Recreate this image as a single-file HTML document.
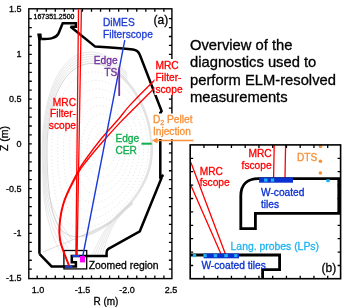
<!DOCTYPE html>
<html><head><meta charset="utf-8">
<style>
html,body{margin:0;padding:0;background:#fff;}
body{width:342px;height:307px;overflow:hidden;position:relative;font-family:"Liberation Sans",sans-serif;}
svg{position:absolute;left:0;top:0;will-change:transform;}
svg text{font-family:"Liberation Sans",sans-serif;stroke-width:0.3px;}
</style></head><body>
<svg width="342" height="307" viewBox="0 0 342 307">
<path d="M148.28 150L147.94 141.82L146.94 133.73L145.29 125.82L143.02 118.17L140.17 110.88L136.8 104.01L132.96 97.64L128.72 91.85L124.15 86.7L119.32 82.24L114.31 78.52L109.18 75.58L104.01 73.46L98.85 72.18L93.78 71.75L88.84 72.18L84.08 73.46L79.55 75.58L75.29 78.52L71.32 82.24L67.68 86.7L64.38 91.85L61.44 97.64L58.87 104.01L56.68 110.88L54.89 118.17L53.49 125.82L52.48 133.73L51.88 141.82L51.68 150L51.79 158.18L52.11 166.27L52.65 174.18L53.42 181.83L54.44 189.12L55.72 195.99L57.29 202.36L59.17 208.15L61.38 213.3L63.94 217.76L66.88 221.48L70.21 224.42L73.94 226.54L78.08 227.82L82.6 228.25L87.5 227.82L92.74 226.54L98.25 224.42L103.97 221.48L109.81 217.76L115.66 213.3L121.4 208.15L126.91 202.36L132.05 195.99L136.68 189.12L140.68 181.83L143.93 174.18L146.32 166.27L147.79 158.18L148.28 150Z" fill="none" stroke="#d2d2d2" stroke-width="0.55" stroke-dasharray="1.2 2.2"/>
<path d="M143.63 150L143.34 142.71L142.46 135.5L141.03 128.45L139.05 121.63L136.57 115.13L133.62 109.01L130.27 103.33L126.56 98.17L122.55 93.58L118.3 89.6L113.88 86.29L109.34 83.67L104.76 81.78L100.17 80.64L95.65 80.26L91.23 80.64L86.97 81.78L82.89 83.67L79.05 86.29L75.46 89.6L72.15 93.58L69.15 98.17L66.47 103.33L64.12 109.01L62.12 115.13L60.48 121.63L59.19 128.45L58.27 135.5L57.71 142.71L57.53 150L57.64 157.29L57.96 164.5L58.5 171.55L59.27 178.37L60.28 184.87L61.55 190.99L63.08 196.67L64.9 201.83L67.03 206.42L69.47 210.4L72.24 213.71L75.35 216.33L78.81 218.22L82.6 219.36L86.71 219.74L91.12 219.36L95.79 218.22L100.68 216.33L105.7 213.71L110.79 210.4L115.86 206.42L120.81 201.83L125.53 196.67L129.91 190.99L133.85 184.87L137.23 178.37L139.97 171.55L141.98 164.5L143.21 157.29L143.63 150Z" fill="none" stroke="#d2d2d2" stroke-width="0.55" stroke-dasharray="1.2 2.2"/>
<path d="M138.98 150L138.73 143.6L137.98 137.27L136.75 131.08L135.05 125.09L132.92 119.38L130.39 114.01L127.5 109.03L124.3 104.49L120.83 100.46L117.15 96.97L113.31 94.06L109.37 91.76L105.36 90.1L101.35 89.1L97.38 88.76L93.49 89.1L89.72 90.1L86.11 91.76L82.7 94.06L79.5 96.97L76.54 100.46L73.86 104.49L71.45 109.03L69.34 114.01L67.53 119.38L66.05 125.09L64.88 131.08L64.05 137.27L63.55 143.6L63.38 150L63.49 156.4L63.8 162.73L64.33 168.92L65.09 174.91L66.07 180.62L67.29 185.99L68.77 190.97L70.5 195.51L72.5 199.54L74.78 203.03L77.35 205.94L80.21 208.24L83.35 209.9L86.77 210.9L90.44 211.24L94.35 210.9L98.45 209.9L102.7 208.24L107.04 205.94L111.41 203.03L115.74 199.54L119.93 195.51L123.91 190.97L127.58 185.99L130.86 180.62L133.68 174.91L135.95 168.92L137.62 162.73L138.64 156.4L138.98 150Z" fill="none" stroke="#d2d2d2" stroke-width="0.55" stroke-dasharray="1.2 2.2"/>
<path d="M134.33 150L134.12 144.49L133.49 139.04L132.46 133.71L131.03 128.55L129.24 123.63L127.1 119.01L124.66 114.72L121.96 110.81L119.02 107.34L115.89 104.33L112.62 101.83L109.25 99.85L105.82 98.42L102.38 97.56L98.96 97.27L95.6 97.56L92.34 98.42L89.2 99.85L86.23 101.83L83.43 104.33L80.85 107.34L78.49 110.81L76.37 114.72L74.51 119.01L72.91 123.63L71.6 128.55L70.56 133.71L69.82 139.04L69.38 144.49L69.23 150L69.33 155.51L69.63 160.96L70.14 166.29L70.86 171.45L71.79 176.37L72.95 180.99L74.33 185.28L75.94 189.19L77.78 192.66L79.87 195.67L82.2 198.17L84.77 200.15L87.56 201.58L90.58 202.44L93.79 202.73L97.18 202.44L100.7 201.58L104.33 200.15L108 198.17L111.67 195.67L115.28 192.66L118.76 189.19L122.04 185.28L125.06 180.99L127.74 176.37L130.03 171.45L131.88 166.29L133.23 160.96L134.05 155.51L134.33 150Z" fill="none" stroke="#d2d2d2" stroke-width="0.55" stroke-dasharray="1.2 2.2"/>
<path d="M129.68 150L129.51 145.38L128.99 140.8L128.15 136.33L126.98 132.01L125.51 127.89L123.76 124L121.75 120.41L119.52 117.13L117.1 114.22L114.51 111.7L111.8 109.6L109 107.94L106.14 106.74L103.26 106.02L100.39 105.77L97.57 106.02L94.82 106.74L92.17 107.94L89.64 109.6L87.27 111.7L85.06 114.22L83.04 117.13L81.23 120.41L79.63 124L78.26 127.89L77.12 132.01L76.23 136.33L75.59 140.8L75.21 145.38L75.08 150L75.17 154.62L75.46 159.2L75.93 163.67L76.59 167.99L77.45 172.11L78.5 176L79.75 179.59L81.21 182.87L82.86 185.78L84.72 188.3L86.77 190.4L89.01 192.06L91.43 193.26L94.01 193.98L96.74 194.23L99.6 193.98L102.54 193.26L105.55 192.06L108.57 190.4L111.57 188.3L114.5 185.78L117.31 182.87L119.94 179.59L122.34 176L124.48 172.11L126.29 167.99L127.75 163.67L128.81 159.2L129.46 154.62L129.68 150Z" fill="none" stroke="#d2d2d2" stroke-width="0.55" stroke-dasharray="1.2 2.2"/>
<path d="M125.03 150L124.89 146.27L124.49 142.57L123.82 138.96L122.9 135.47L121.74 132.14L120.36 129L118.77 126.1L117 123.45L115.08 121.1L113.02 119.06L110.85 117.37L108.61 116.03L106.32 115.06L104 114.47L101.68 114.28L99.4 114.47L97.16 115.06L95 116.03L92.94 117.37L91 119.06L89.19 121.1L87.52 123.45L86.03 126.1L84.7 129L83.57 132.14L82.63 135.47L81.89 138.96L81.36 142.57L81.04 146.27L80.93 150L81.01 153.73L81.26 157.43L81.68 161.04L82.27 164.53L83.03 167.86L83.95 171L85.04 173.9L86.3 176.55L87.72 178.9L89.3 180.94L91.04 182.63L92.92 183.97L94.93 184.94L97.06 185.53L99.29 185.72L101.61 185.53L103.97 184.94L106.37 183.97L108.76 182.63L111.12 180.94L113.4 178.9L115.58 176.55L117.61 173.9L119.45 171L121.08 167.86L122.46 164.53L123.57 161.04L124.37 157.43L124.87 153.73L125.03 150Z" fill="none" stroke="#d2d2d2" stroke-width="0.55" stroke-dasharray="1.2 2.2"/>
<path d="M120.38 150L120.28 147.16L119.98 144.34L119.48 141.59L118.8 138.93L117.94 136.39L116.91 134L115.72 131.79L114.4 129.77L112.96 127.98L111.41 126.43L109.78 125.14L108.09 124.12L106.35 123.38L104.59 122.93L102.83 122.78L101.08 122.93L99.37 123.38L97.71 124.12L96.12 125.14L94.62 126.43L93.22 127.98L91.93 129.77L90.76 131.79L89.73 134L88.85 136.39L88.11 138.93L87.53 141.59L87.12 144.34L86.86 147.16L86.78 150L86.85 152.84L87.06 155.66L87.41 158.41L87.9 161.07L88.52 163.61L89.28 166L90.18 168.21L91.2 170.23L92.35 172.02L93.62 173.57L95 174.86L96.49 175.88L98.06 176.62L99.72 177.07L101.44 177.22L103.2 177.07L104.99 176.62L106.79 175.88L108.58 174.86L110.32 173.57L112 172.02L113.58 170.23L115.06 168.21L116.39 166L117.56 163.61L118.55 161.07L119.34 158.41L119.91 155.66L120.26 152.84L120.38 150Z" fill="none" stroke="#d2d2d2" stroke-width="0.55" stroke-dasharray="1.2 2.2"/>
<path d="M115.73 150L115.66 148.04L115.46 146.11L115.13 144.22L114.67 142.39L114.09 140.64L113.4 139L112.6 137.48L111.71 136.1L110.73 134.86L109.69 133.8L108.58 132.91L107.43 132.2L106.24 131.7L105.03 131.39L103.82 131.29L102.62 131.39L101.44 131.7L100.29 132.2L99.19 132.91L98.14 133.8L97.16 134.86L96.26 136.1L95.44 137.48L94.71 139L94.09 140.64L93.57 142.39L93.16 144.22L92.87 146.11L92.69 148.04L92.63 150L92.68 151.96L92.84 153.89L93.1 155.78L93.47 157.61L93.93 159.36L94.5 161L95.16 162.52L95.91 163.9L96.74 165.14L97.66 166.2L98.65 167.09L99.71 167.8L100.82 168.3L101.97 168.61L103.16 168.71L104.38 168.61L105.6 168.3L106.82 167.8L108.02 167.09L109.18 166.2L110.29 165.14L111.33 163.9L112.29 162.52L113.16 161L113.92 159.36L114.56 157.61L115.06 155.78L115.43 153.89L115.66 151.96L115.73 150Z" fill="none" stroke="#d2d2d2" stroke-width="0.55" stroke-dasharray="1.2 2.2"/>
<path d="M152 150L151.79 143.2L151.16 136.45L150.12 129.78L148.68 123.23L146.86 116.85L144.67 110.67L142.14 104.74L139.29 99.08L136.16 93.74L132.77 88.75L129.16 84.13L125.36 79.92L121.41 76.14L117.33 72.82L113.17 69.97L108.95 67.61L104.71 65.77L100.49 64.44L96.3 63.64L92.17 63.38L88.14 63.64L84.22 64.44L80.43 65.77L76.79 67.61L73.32 69.97L70.03 72.82L66.93 76.14L64.04 79.92L61.36 84.13L58.89 88.75L56.65 93.74L54.63 99.08L52.85 104.74L51.3 110.67L49.99 116.85L48.91 123.23L48.08 129.78L47.48 136.45L47.12 143.2L47 150L47.05 156.8L47.2 163.55L47.45 170.22L47.8 176.77L48.27 183.15L48.86 189.33L49.58 195.26L50.44 200.92L51.45 206.26L52.63 211.25L53.99 215.87L55.54 220.08L57.31 223.86L59.3 227.18L61.53 230.03L64.02 232.39L66.77 234.23L69.79 235.56L73.09 236.36L76.66 236.62L80.51 236.36L84.62 235.56L88.97 234.23L93.54 232.39L98.29 230.03L103.19 227.18L108.18 223.86L113.21 220.08L118.22 215.87L123.15 211.25L127.91 206.26L132.43 200.92L136.64 195.26L140.47 189.33L143.84 183.15L146.7 176.77L148.98 170.22L150.65 163.55L151.66 156.8L152 150Z" fill="none" stroke="#b9b9b9" stroke-width="0.6"/>
<path d="M82.39 235.99L84.79 235.44L87.27 234.71L89.82 233.81L92.45 232.74L95.13 231.5L97.87 230.09L100.66 228.53L103.49 226.8L106.35 224.92L109.23 222.89L112.11 220.71L114.99 218.39L117.86 215.93L120.69 213.34L123.49 210.61L126.22 207.77L128.89 204.81L131.47 201.73L133.96 198.55L136.33 195.28L138.58 191.91L140.68 188.46L142.64 184.93L144.42 181.32L146.04 177.66L147.47 173.94L148.7 170.17L149.73 166.36L150.55 162.52L151.15 158.65L151.53 154.76L151.69 150.87L151.66 146.97L151.48 143.08L151.17 139.2L150.72 135.34L150.13 131.52L149.42 127.73L148.57 123.99L147.6 120.3L146.5 116.67L145.28 113.1L143.95 109.61L142.51 106.21L140.96 102.89L139.31 99.67L137.56 96.55L135.73 93.53L133.81 90.64L131.82 87.86L129.75 85.21L127.62 82.69L125.43 80.3L123.19 78.06L120.9 75.96L118.58 74.01L116.22 72.22L113.83 70.58L111.43 69.11L109.01 67.79" fill="none" stroke="#e3e3e3" stroke-width="2.6"/>
<path d="M127.4 80.4L124.83 77.63L122.19 75.06L119.5 72.69L116.76 70.52L113.98 68.57L111.18 66.84L108.36 65.33L105.53 64.05L102.71 63L99.89 62.18L97.09 61.6L94.31 61.26L91.57 61.15L88.87 61.28L86.21 61.66L83.61 62.26L81.07 63.11L78.59 64.19L76.18 65.49L73.84 67.03L71.58 68.79L69.41 70.76L67.31 72.95L65.31 75.35L63.39 77.95L61.57 80.74L59.84 83.71L58.21 86.87L56.68 90.19L55.25 93.67L53.92 97.31L52.69 101.09L51.57 105L50.54 109.03L49.62 113.16L48.81 117.4L48.1 121.73L47.49 126.13L46.99 130.6L46.6 135.12L46.31 139.67L46.12 144.26L46.04 148.86L46.05 153.47L46.09 158.06L46.18 162.63L46.29 167.17L46.45 171.67L46.65 176.1L46.88 180.47C46.48 198.47 59.5 225 72.5 240" fill="none" stroke="#cfcfcf" stroke-width="0.5"/>
<path d="M127.36 78.64L124.76 75.8L122.09 73.16L119.37 70.73L116.6 68.51L113.79 66.51L110.96 64.73L108.11 63.19L105.25 61.87L102.39 60.79L99.54 59.96L96.71 59.36L93.9 59.01L91.13 58.9L88.39 59.04L85.71 59.42L83.08 60.04L80.5 60.91L78 62.01L75.56 63.35L73.2 64.93L70.91 66.73L68.71 68.76L66.59 71L64.57 73.46L62.63 76.12L60.79 78.98L59.04 82.03L57.39 85.27L55.84 88.68L54.4 92.25L53.05 95.98L51.81 99.85L50.67 103.86L49.63 107.99L48.7 112.23L47.88 116.58L47.16 121.01L46.55 125.53L46.04 130.11L45.64 134.74L45.35 139.41L45.16 144.11L45.08 148.83L45.09 153.55L45.14 158.26L45.22 162.95L45.34 167.61L45.5 172.21L45.69 176.76L45.93 181.24C45.53 199.24 57.3 229 70.3 244" fill="none" stroke="#cfcfcf" stroke-width="0.5"/>
<path d="M127.32 76.88L124.69 73.97L121.99 71.26L119.24 68.77L116.44 66.5L113.6 64.45L110.73 62.63L107.85 61.04L104.96 59.7L102.07 58.59L99.19 57.73L96.32 57.12L93.48 56.76L90.68 56.65L87.92 56.79L85.2 57.18L82.54 57.82L79.94 58.71L77.41 59.84L74.94 61.21L72.55 62.83L70.24 64.67L68.01 66.75L65.87 69.05L63.82 71.57L61.86 74.3L60 77.23L58.24 80.35L56.57 83.67L55 87.16L53.54 90.82L52.18 94.64L50.92 98.61L49.77 102.72L48.72 106.95L47.78 111.3L46.95 115.75L46.22 120.3L45.6 124.92L45.09 129.61L44.69 134.36L44.39 139.15L44.2 143.97L44.12 148.8L44.13 153.64L44.18 158.47L44.26 163.27L44.38 168.04L44.54 172.76L44.74 177.42L44.98 182.01C44.58 200.01 55.1 233 68.1 248" fill="none" stroke="#cfcfcf" stroke-width="0.5"/>
<path d="M127.27 75.11L124.62 72.14L121.89 69.37L119.11 66.81L116.28 64.49L113.41 62.39L110.51 60.52L107.59 58.9L104.67 57.52L101.75 56.39L98.83 55.51L95.94 54.88L93.07 54.51L90.24 54.4L87.44 54.54L84.7 54.94L82.01 55.6L79.38 56.51L76.81 57.67L74.32 59.07L71.9 60.73L69.57 62.62L67.32 64.74L65.15 67.1L63.08 69.68L61.1 72.47L59.22 75.47L57.43 78.68L55.75 82.07L54.16 85.65L52.68 89.4L51.31 93.31L50.04 97.37L48.87 101.58L47.81 105.91L46.86 110.37L46.02 114.93L45.29 119.58L44.66 124.32L44.14 129.12L43.74 133.98L43.44 138.89L43.24 143.82L43.16 148.77L43.17 153.73L43.22 158.67L43.3 163.59L43.42 168.48L43.58 173.31L43.79 178.08L44.03 182.78C43.63 200.78 52.9 237 65.9 252" fill="none" stroke="#cfcfcf" stroke-width="0.5"/>
<path d="M127.23 73.35L124.55 70.3L121.79 67.47L118.98 64.86L116.12 62.47L113.22 60.32L110.29 58.42L107.34 56.75L104.38 55.34L101.43 54.19L98.48 53.29L95.56 52.65L92.66 52.27L89.79 52.15L86.97 52.3L84.19 52.71L81.47 53.38L78.81 54.31L76.22 55.49L73.7 56.93L71.26 58.63L68.9 60.56L66.62 62.74L64.43 65.15L62.34 67.79L60.34 70.65L58.43 73.72L56.63 77L54.92 80.47L53.32 84.13L51.83 87.97L50.44 91.97L49.15 96.13L47.97 100.44L46.91 104.87L45.94 109.43L45.09 114.1L44.35 118.87L43.72 123.71L43.19 128.63L42.78 133.61L42.48 138.63L42.29 143.68L42.2 148.75L42.21 153.82L42.26 158.88L42.34 163.91L42.47 168.91L42.63 173.86L42.83 178.75L43.08 183.55C42.68 201.55 50.7 241 63.7 256" fill="none" stroke="#cfcfcf" stroke-width="0.5"/>
<path d="M43 252 L76 238.5 L112 222" fill="none" stroke="#c8c8c8" stroke-width="0.6"/>
<path d="M132 202 C116 214 104 226 92 256" fill="none" stroke="#d0d0d0" stroke-width="0.5"/>
<path d="M132.3 202.5 C116.4 214.3 105.6 226 94.4 256" fill="none" stroke="#d0d0d0" stroke-width="0.5"/>
<path d="M132.6 203 C116.8 214.6 107.2 226 96.8 256" fill="none" stroke="#d0d0d0" stroke-width="0.5"/>
<path d="M132.9 203.5 C117.2 214.9 108.8 226 99.2 256" fill="none" stroke="#d0d0d0" stroke-width="0.5"/>
<path d="M133.2 204 C117.6 215.2 110.4 226 101.6 256" fill="none" stroke="#d0d0d0" stroke-width="0.5"/>

<rect x="28.8" y="8.8" width="143.1" height="269.8" fill="none" stroke="#000" stroke-width="1.4"/>
<path d="M28.8 269.2h3.0M171.9 269.2h-3.0M28.8 260.25h3.0M171.9 260.25h-3.0M28.8 251.3h3.0M171.9 251.3h-3.0M28.8 242.35h3.0M171.9 242.35h-3.0M28.8 233.4h3.0M171.9 233.4h-3.0M28.8 224.45h3.0M171.9 224.45h-3.0M28.8 215.5h3.0M171.9 215.5h-3.0M28.8 206.55h3.0M171.9 206.55h-3.0M28.8 197.6h3.0M171.9 197.6h-3.0M28.8 188.65h3.0M171.9 188.65h-3.0M28.8 179.7h3.0M171.9 179.7h-3.0M28.8 170.75h3.0M171.9 170.75h-3.0M28.8 161.8h3.0M171.9 161.8h-3.0M28.8 152.85h3.0M171.9 152.85h-3.0M28.8 143.9h3.0M171.9 143.9h-3.0M28.8 134.95h3.0M171.9 134.95h-3.0M28.8 126h3.0M171.9 126h-3.0M28.8 117.05h3.0M171.9 117.05h-3.0M28.8 108.1h3.0M171.9 108.1h-3.0M28.8 99.15h3.0M171.9 99.15h-3.0M28.8 90.2h3.0M171.9 90.2h-3.0M28.8 81.25h3.0M171.9 81.25h-3.0M28.8 72.3h3.0M171.9 72.3h-3.0M28.8 63.35h3.0M171.9 63.35h-3.0M28.8 54.4h3.0M171.9 54.4h-3.0M28.8 45.45h3.0M171.9 45.45h-3.0M28.8 36.5h3.0M171.9 36.5h-3.0M28.8 27.55h3.0M171.9 27.55h-3.0M28.8 18.6h3.0M171.9 18.6h-3.0M37.2 8.8v3M37.2 278.6v-3M46.25 8.8v3M46.25 278.6v-3M55.3 8.8v3M55.3 278.6v-3M64.35 8.8v3M64.35 278.6v-3M73.4 8.8v3M73.4 278.6v-3M82.45 8.8v3M82.45 278.6v-3M91.5 8.8v3M91.5 278.6v-3M100.55 8.8v3M100.55 278.6v-3M109.6 8.8v3M109.6 278.6v-3M118.65 8.8v3M118.65 278.6v-3M127.7 8.8v3M127.7 278.6v-3M136.75 8.8v3M136.75 278.6v-3M145.8 8.8v3M145.8 278.6v-3M154.85 8.8v3M154.85 278.6v-3M163.9 8.8v3M163.9 278.6v-3" stroke="#000" stroke-width="1.3" fill="none"/>

<!-- vessel wall -->
<path d="M37.2 33.4 L41.5 33.4 L41.9 37.6 L40.6 40.6 L38.3 40.6 Z" fill="#000"/>
<path d="M39.4 253.8 L39.4 38.5 M41.2 39 C50 39 56 38.4 58.4 33.6 C59.8 30.6 61.4 26 62.7 23.2 L62.8 23.2 L75.9 23.2 L75.9 26.8 L70.6 26.8 L95.2 46.6 C110 47.4 125 48.6 133 49.6 C137 50.1 138.6 52 139.8 54.8 L161.6 111 L160.3 113"
 fill="none" stroke="#000" stroke-width="2.5" stroke-linejoin="miter" stroke-miterlimit="2"/>
<path d="M160.3 112 L160.3 177 L163.6 175.2 M161.9 177 L139.8 231.3 L108.4 248.9 Q106.6 250 106.6 252.5 L106.6 256 L71.8 256 L71.8 262.2 L75.9 262.2 L75.9 266.6 L51.6 266.4 L39.4 253.8"
 fill="none" stroke="#000" stroke-width="2.5" stroke-linejoin="miter" stroke-miterlimit="2"/>

<!-- zoom box -->
<rect x="63.9" y="250.5" width="22.8" height="18.4" fill="none" stroke="#000" stroke-width="1.3"/>
<rect x="65.2" y="265.6" width="7.2" height="2.1" fill="#1f3fd8"/>
<rect x="72.4" y="254.9" width="7.2" height="2.2" fill="#1f3fd8"/>
<rect x="80" y="256" width="5" height="6.4" fill="#ff00ff"/>

<!-- red vertical MRC pair -->
<path d="M78.5 9.3 L75.9 255 M81.4 9.3 L77.1 255" stroke="#f00" stroke-width="1.3" fill="none"/>
<path d="M162 73.5C160.62 74.73 159.03 75.63 153.7 80.9C148.37 86.17 135.98 98.58 130 105.1C124.02 111.62 122.63 114.35 117.8 120C112.97 125.65 106.43 132.33 101 139C95.57 145.67 89.13 154.43 85.2 160C81.27 165.57 80.88 165.73 77.4 172.4C73.92 179.07 67.3 191.48 64.3 200C61.3 208.52 60.08 216.5 59.4 223.5C58.72 230.5 58.67 235.03 60.2 242C61.73 248.97 67.2 261.42 68.6 265.3" stroke="#f00" stroke-width="1.35" fill="none"/>
<path d="M163 79.5C161.67 80.82 160.5 81.88 155 87.4C149.5 92.92 135.83 106.73 130 112.6C124.17 118.47 124.45 117.87 120 122.6C115.55 127.33 108.73 134.77 103.3 141C97.87 147.23 91.58 154.7 87.4 160C83.22 165.3 81.95 166.12 78.2 172.8C74.45 179.48 67.93 191.65 64.9 200.1C61.87 208.55 60.68 216.52 60 223.5C59.32 230.48 59.27 235.03 60.8 242C62.33 248.97 67.8 261.42 69.2 265.3" stroke="#f00" stroke-width="1.35" fill="none"/>
<!-- blue DiMES line -->
<path d="M124.8 40.2 L82.8 256" stroke="#1a3ad8" stroke-width="1.4" fill="none"/>
<!-- purple TS -->
<path d="M119.2 67.5 L119.2 96" stroke="#7030a0" stroke-width="1.8" fill="none"/>
<!-- green CER -->
<path d="M141.4 143.7 L151.7 143.7" stroke="#12ad4e" stroke-width="2" fill="none"/>

<!-- labels panel a -->
<text x="33.6" y="19.5" font-size="6.7" transform="translate(33.6 0) scale(1.045 1) translate(-33.6 0)" fill="#000" stroke="#000">167351.2500</text>
<text x="153.6" y="24.2" font-size="12" fill="#000" stroke="#000">(a)</text>
<g font-size="10.2" fill="#1e3cd4" stroke="#1e3cd4"><text x="103" y="25.9">DiMES</text><text x="103" y="37.7">Filterscope</text></g>
<g font-size="10.2" fill="#7030a0" stroke="#7030a0" text-anchor="end"><text x="117.6" y="63.7">Edge</text><text x="117.2" y="75.6">TS</text></g>
<g font-size="10.2" fill="#f00" stroke="#f00" text-anchor="end"><text x="76" y="105.7">MRC</text><text x="76" y="117.1">Filter-</text><text x="76" y="129.1">scope</text></g>
<rect x="154.5" y="59" width="29" height="36" fill="#fff"/>
<g font-size="10.2" fill="#f00" stroke="#f00"><text x="155.4" y="69">MRC</text><text x="155.4" y="80.7">Filter-</text><text x="155.4" y="92.6">scope</text></g>
<g font-size="10.2" fill="#12ad4e" stroke="#12ad4e"><text x="115.4" y="141.5">Edge</text><text x="115.4" y="153.5">CER</text></g>
<rect x="151.5" y="113.5" width="43" height="25.5" fill="#fff"/>
<g font-size="10.2" fill="#f7913a" stroke="#f7913a"><text x="152.9" y="123">D<tspan font-size="7" dy="2">2</tspan><tspan dy="-2"> Pellet</tspan></text><text x="152.9" y="135.2">Injection</text></g>
<path d="M193.5 140.5 L154 140.5" stroke="#f7913a" stroke-width="1.4" fill="none"/>
<path d="M152 140.5 L157.5 137.6 L157.5 143.4 Z" fill="#f7913a"/>
<text x="88.7" y="268.8" font-size="10.4" fill="#000" stroke="#000">Zoomed region</text>

<!-- axis tick labels -->
<g font-size="9" fill="#000" stroke="#000" text-anchor="end">
<text x="21.6" y="12.2">1.5</text>
<text x="21.6" y="57.2">1</text>
<text x="21.6" y="102">0.5</text>
<text x="21.6" y="146.8">0</text>
<text x="21.6" y="191.6">-0.5</text>
<text x="21.6" y="236.4">-1</text>
<text x="21.6" y="281.2">-1.5</text>
</g>
<g font-size="9" fill="#000" stroke="#000" text-anchor="middle">
<text x="38" y="293">1.0</text>
<text x="82.5" y="293">-1.5</text>
<text x="127" y="293">-2.0</text>
<text x="171" y="293">2.5</text>
</g>
<text x="93.4" y="304.5" font-size="10" fill="#000" stroke="#000">R (m)</text>
<text transform="translate(8.2,151) rotate(-90) scale(1.05,1)" font-size="10" fill="#000" stroke="#000">Z (m)</text>

<!-- ===== panel b ===== -->
<!-- red MRC lines in b -->
<path d="M190.9 162.5 L225.6 254.4 M190.3 184 L221.2 254.4" stroke="#f00" stroke-width="1.3" fill="none"/>
<path d="M274.2 145 L273.6 177.5 M285.6 145 L285 177.5" stroke="#f00" stroke-width="1.3" fill="none"/>
<!-- walls -->
<path d="M338.8 213.4 L338.8 178.6 L258.3 178.6 C248 178.6 240.8 184 240.8 196 L240.8 228.6 L255.4 228.6 L255.4 213.4 L341 213.4" fill="none" stroke="#000" stroke-width="2.8"/>
<path d="M190 255 L279.6 255 L279.6 269.6 L262.6 269.6 L262.6 279" fill="none" stroke="#000" stroke-width="2.8"/>
<circle cx="320.5" cy="146.4" r="1.8" fill="#f7913a"/>
<rect x="190.2" y="144.9" width="150.4" height="133.8" fill="none" stroke="#000" stroke-width="1.6"/>
<path d="M203.95 144.9v3M203.95 278.7v-3M217.7 144.9v3M217.7 278.7v-3M231.45 144.9v3M231.45 278.7v-3M245.2 144.9v3M245.2 278.7v-3M258.95 144.9v3M258.95 278.7v-3M272.7 144.9v3M272.7 278.7v-3M286.45 144.9v3M286.45 278.7v-3M300.2 144.9v3M300.2 278.7v-3M313.95 144.9v3M313.95 278.7v-3M327.7 144.9v3M327.7 278.7v-3M190.2 158.3h3M340.6 158.3h-3M190.2 171.7h3M340.6 171.7h-3M190.2 185.1h3M340.6 185.1h-3M190.2 198.5h3M340.6 198.5h-3M190.2 211.9h3M340.6 211.9h-3M190.2 225.3h3M340.6 225.3h-3M190.2 238.7h3M340.6 238.7h-3M190.2 252.1h3M340.6 252.1h-3M190.2 265.5h3M340.6 265.5h-3" stroke="#000" stroke-width="1.3" fill="none"/>
<!-- tiles -->
<rect x="259.1" y="177.4" width="33.9" height="5.3" fill="#0a30d0"/>
<rect x="264.1" y="178.5" width="3.4" height="3.2" fill="#1fb4f0"/>
<rect x="270.8" y="178.5" width="3.4" height="3.2" fill="#1fb4f0"/>
<rect x="326.3" y="179.3" width="3.5" height="2.8" fill="#1fb4f0"/>
<rect x="203.6" y="253.5" width="35.4" height="4.8" fill="#0a30d0"/>
<rect x="192.8" y="254.1" width="3.4" height="3.1" fill="#1fb4f0"/>
<rect x="203.4" y="254.1" width="3.3" height="3.1" fill="#1fb4f0"/>
<rect x="213.7" y="254.1" width="3.4" height="3.1" fill="#1fb4f0"/>
<rect x="224.3" y="254.1" width="3.5" height="3.1" fill="#1fb4f0"/>
<rect x="234.2" y="254.1" width="3.2" height="3.1" fill="#1fb4f0"/>
<!-- orange dots -->
<g fill="#f7913a"><circle cx="320.4" cy="161.2" r="1.8"/><circle cx="320.4" cy="173" r="1.8"/></g>
<!-- labels b -->
<g font-size="10.2" fill="#f00" stroke="#f00"><text x="199.7" y="174.8">MRC</text><text x="199.7" y="185.9">fscope</text></g>
<g font-size="10.2" fill="#f00" stroke="#f00" text-anchor="end"><text x="271.6" y="157.1">MRC</text><text x="271.6" y="168.5">fscope</text></g>
<text x="297" y="161.2" font-size="10.2" fill="#f7913a" stroke="#f7913a">DTS</text>
<g font-size="10.2" fill="#0a30d0" stroke="#0a30d0"><text x="261" y="196">W-coated</text><text x="261" y="208">tiles</text></g>
<text x="230.6" y="249.8" font-size="10.4" fill="#1fb4f0" stroke="#1fb4f0">Lang. probes (LPs)</text>
<text x="201.4" y="269.3" font-size="10.2" fill="#0a30d0" stroke="#0a30d0">W-coated tiles</text>
<text x="321.6" y="272" font-size="12" fill="#000" stroke="#000">(b)</text>

<!-- right text block -->
<g font-size="14" fill="#000" stroke="#000" transform="translate(190 0) scale(1.055 1) translate(-190 0)">
<text x="190" y="49.7">Overview of the</text>
<text x="190" y="67">diagnostics used to</text>
<text x="190" y="85.2">perform ELM-resolved</text>
<text x="190" y="102.5">measurements</text>
</g>
</svg>
</body></html>
